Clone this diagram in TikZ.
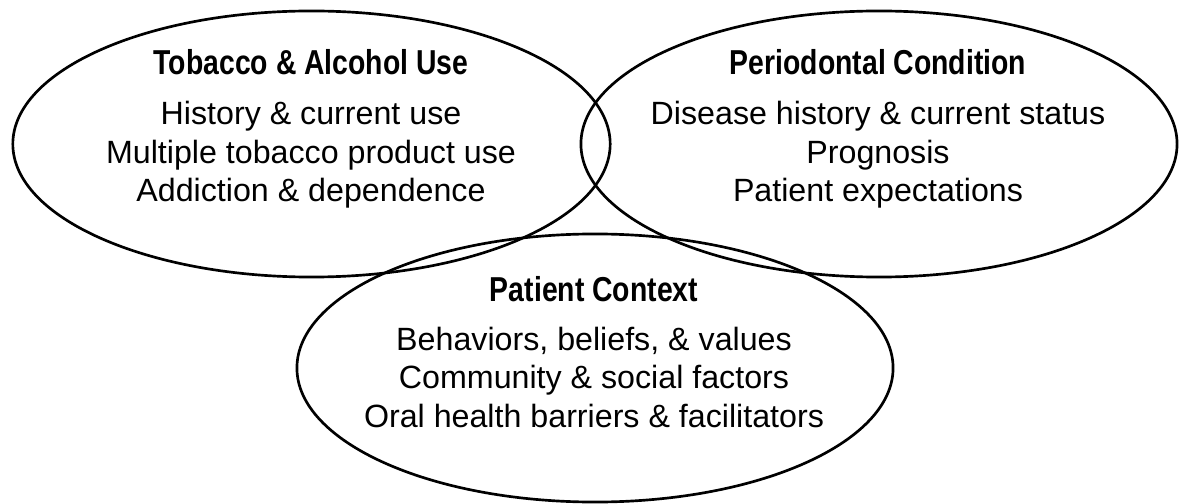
\documentclass[tikz,border=0pt]{standalone}
\usepackage{fontspec}
\setmainfont{Liberation Sans}
\newfontfamily\headfont[FakeStretch=0.82]{Liberation Sans}
\usetikzlibrary{shapes.geometric}
\tikzset{
  ring/.style = {ellipse, draw, line width=1.9pt, inner sep=0pt,
                 minimum height=6.65cm},
  head/.style = {anchor=base, inner sep=0pt,
                 font=\headfont\bfseries\fontsize{24.6}{28}\selectfont},
  item/.style = {anchor=base, inner sep=0pt,
                 font=\fontsize{22.9}{27}\selectfont}
}

\begin{document}
\begin{tikzpicture}[x=0.025cm, y=-0.025cm]
	\def \sp{38.5} % line step
	\useasboundingbox (0,0) rectangle (1181,504);

	% Ellipses
	\node[ring, minimum width=14.93cm] (tob) at (311.5,144) {};
	\node[ring, minimum width=14.9cm] (perio) at (879,144) {};
	\node[ring, minimum width=14.9cm, minimum height=6.7cm] (ctx) at (595,368) {};

	% Tobacco & Alcohol Use
	\node[head] (tobhead) at (311,75) {Tobacco \& Alcohol Use};
	\node[item] (tob1) at (311,125) {History \& current use};
	\node[item] (tob2) at (311,125+\sp) {Multiple tobacco product use};
	\node[item] (tob3) at (311,125+2*\sp) {Addiction \& dependence};

	% Periodontal Condition
	\node[head] (periohead) at (878,75) {Periodontal Condition};
	\node[item] (perio1) at (878,125) {Disease history \& current status};
	\node[item] (perio2) at (878,125+\sp) {Prognosis};
	\node[item] (perio3) at (878,125+2*\sp) {Patient expectations};

	% Patient Context
	\node[head] (ctxhead) at (594,301) {Patient Context};
	\node[item] (ctx1) at (594,350) {Behaviors, beliefs, \& values};
	\node[item] (ctx2) at (594,350+\sp) {Community \& social factors};
	\node[item] (ctx3) at (594,350+2*\sp) {Oral health barriers \& facilitators};
\end{tikzpicture}
\end{document}
